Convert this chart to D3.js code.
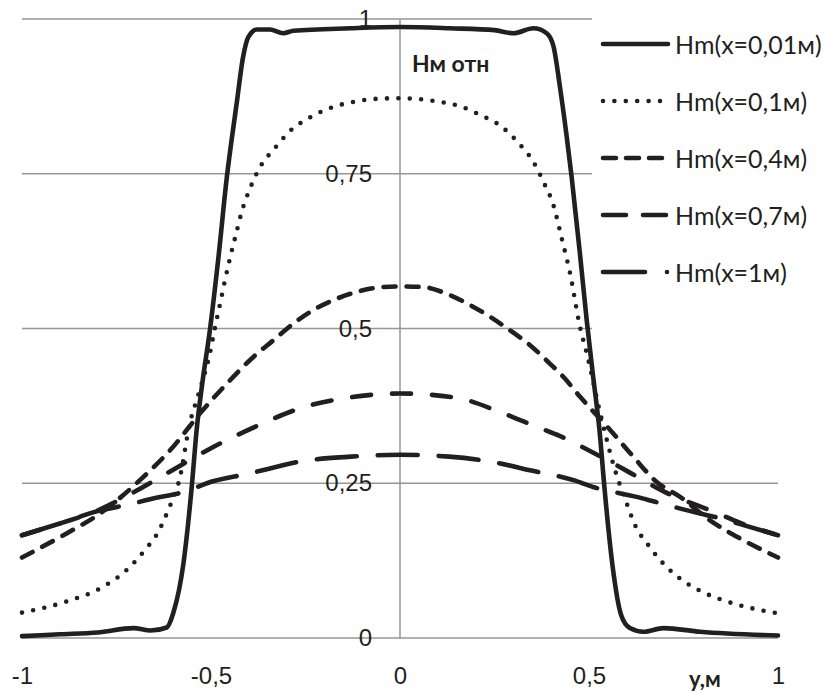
<!DOCTYPE html>
<html>
<head>
<meta charset="utf-8">
<script src="https://d3js.org/d3.v7.min.js"></script>
<style>
  body { margin: 0; background: #fff; }
  svg { display: block; font-family: Lato, 'Open Sans', sans-serif; }
  .grid { stroke: #969696; stroke-width: 1.5; }
  .curve { fill: none; stroke: #231f20; stroke-width: 4.6; stroke-linecap: round; stroke-linejoin: round; }
  .tick text { font-size: 24px; fill: #231f20; }
</style>
</head>
<body>
<svg id="chart"></svg>
<script>
// ticks and labels
var xTicks = [-1, -0.5, 0, 0.5, 1];
var yTicks = [0, 0.25, 0.5, 0.75, 1];
var seriesNames = ["Hm(x=0,01м)", "Hm(x=0,1м)", "Hm(x=0,4м)", "Hm(x=0,7м)", "Hm(x=1м)"];

// x = 0,01 m
var pos001 = [-1, -0.9, -0.8, -0.705, -0.66, -0.617, -0.6, -0.573, -0.551, -0.538, -0.522, -0.503, -0.481, -0.458, -0.432, -0.415, -0.401, -0.379, -0.344, -0.309, -0.282, -0.132, 0,
              0.132, 0.25, 0.30, 0.353, 0.388, 0.406, 0.423, 0.441, 0.454, 0.476, 0.494, 0.511, 0.528, 0.541, 0.562, 0.585, 0.608, 0.644, 0.697, 0.794, 1];
var hm001 = [0.003, 0.006, 0.009, 0.016, 0.012, 0.017, 0.04, 0.12, 0.244, 0.336, 0.416, 0.497, 0.611, 0.745, 0.864, 0.939, 0.971, 0.983, 0.983, 0.977, 0.981, 0.985, 0.987,
             0.985, 0.982, 0.977, 0.985, 0.977, 0.956, 0.891, 0.81, 0.745, 0.621, 0.513, 0.422, 0.334, 0.242, 0.118, 0.037, 0.016, 0.01, 0.016, 0.01, 0.004];

// x = 0,1 m
var pos01 = [-1, -0.882, -0.794, -0.723, -0.675, -0.639, -0.613, -0.582, -0.556, -0.534, -0.503, -0.489, -0.476, -0.463, -0.45, -0.434, -0.419, -0.397, -0.37, -0.333, -0.291, -0.238, -0.181, -0.124, -0.062, 0,
             0.097, 0.159, 0.212, 0.269, 0.313, 0.353, 0.381, 0.406, 0.428, 0.45, 0.476, 0.494, 0.529, 0.569, 0.6, 0.622, 0.657, 0.697, 0.745, 0.798, 0.855, 0.917, 1];
var hm01 = [0.041, 0.059, 0.08, 0.11, 0.142, 0.172, 0.207, 0.26, 0.347, 0.392, 0.46, 0.503, 0.54, 0.578, 0.613, 0.652, 0.688, 0.726, 0.761, 0.79, 0.819, 0.841, 0.857, 0.866, 0.871, 0.872,
            0.867, 0.859, 0.845, 0.826, 0.8, 0.769, 0.735, 0.699, 0.645, 0.589, 0.503, 0.46, 0.365, 0.271, 0.217, 0.182, 0.15, 0.12, 0.094, 0.075, 0.061, 0.05, 0.04];

// x = 0,4 m
var pos04 = [-1, -0.882, -0.794, -0.688, -0.6, -0.529, -0.458, -0.388, -0.335, -0.282, -0.229, -0.176, -0.115, -0.044, 0,
             0.062, 0.124, 0.185, 0.238, 0.291, 0.344, 0.397, 0.432, 0.476, 0.556, 0.617, 0.679, 0.741, 0.82, 0.899, 1];
var hm04 = [0.13, 0.169, 0.201, 0.255, 0.309, 0.363, 0.411, 0.454, 0.481, 0.508, 0.53, 0.546, 0.559, 0.567, 0.568,
            0.567, 0.556, 0.538, 0.519, 0.497, 0.473, 0.443, 0.422, 0.39, 0.336, 0.293, 0.252, 0.228, 0.19, 0.161, 0.13];

// x = 0,7 m
var pos07 = [-1, -0.9, -0.8, -0.7, -0.6, -0.511, -0.362, -0.265, -0.15, 0,
             0.15, 0.265, 0.33, 0.383, 0.428, 0.481, 0.6, 0.7, 0.83, 0.9, 1];
var hm07 = [0.166, 0.185, 0.206, 0.237, 0.272, 0.303, 0.347, 0.371, 0.387, 0.395,
            0.388, 0.365, 0.349, 0.336, 0.325, 0.309, 0.27, 0.236, 0.204, 0.186, 0.166];

// x = 1 m
var pos1 = [-1, -0.9, -0.8, -0.7, -0.67, -0.556, -0.511, -0.397, -0.344, -0.265, -0.13, 0,
            0.13, 0.265, 0.344, 0.459, 0.511, 0.626, 0.675, 0.794, 0.83, 0.9, 1];
var hm1 = [0.166, 0.185, 0.205, 0.218, 0.223, 0.239, 0.25, 0.266, 0.274, 0.285, 0.293, 0.296,
           0.293, 0.282, 0.271, 0.255, 0.244, 0.228, 0.22, 0.201, 0.196, 0.184, 0.166];

var seriesPos = [pos001, pos01, pos04, pos07, pos1];
var seriesVal = [hm001, hm01, hm04, hm07, hm1];
var dashes = [null, "0 11.4", "12 11", "19 21", "40 21"];
var legendDashes = [null, "0 11.4", "13 10", "23 17", "42 22 0 40"];

var width = 824, height = 693;
var svg = d3.select("#chart").attr("width", width).attr("height", height);

var x = d3.scaleLinear().domain([-1, 1]).range([22, 778]);
var y = d3.scaleLinear().domain([0, 1]).range([638, 19]);

// comma decimal, plain hyphen minus
var ru = d3.formatLocale({decimal: ",", thousands: " ", grouping: [3], currency: ["", ""], minus: "-"});
var fmt = ru.format("~g");

// horizontal grid
svg.append("g").selectAll("line").data(yTicks).enter().append("line")
  .attr("class", "grid")
  .attr("x1", x(-1)).attr("x2", x(1))
  .attr("y1", function(d) { return y(d); }).attr("y2", function(d) { return y(d); });

// vertical axis line at 0
svg.append("line").attr("class", "grid")
  .attr("x1", x(0)).attr("x2", x(0)).attr("y1", y(1)).attr("y2", y(0));

// y axis labels (left of zero line)
var yAxis = svg.append("g").attr("transform", "translate(" + x(0) + ",0)")
  .call(d3.axisLeft(y).tickValues(yTicks).tickSize(0).tickPadding(28).tickFormat(fmt));
yAxis.select(".domain").remove();
yAxis.selectAll("text").attr("font-family", null);

// x axis labels
var xAxis = svg.append("g").attr("transform", "translate(0," + y(0) + ")")
  .call(d3.axisBottom(x).tickValues(xTicks).tickSize(0).tickPadding(29).tickFormat(fmt));
xAxis.select(".domain").remove();
xAxis.selectAll("text").attr("font-family", null);

// curves
var line = d3.line().curve(d3.curveMonotoneX)
  .x(function(d) { return x(d[0]); })
  .y(function(d) { return y(d[1]); });

seriesPos.forEach(function(p, i) {
  var pts = p.map(function(v, j) { return [v, seriesVal[i][j]]; });
  svg.append("path").attr("class", "curve")
    .attr("d", line(pts))
    .attr("stroke-dasharray", dashes[i]);
});

// axis titles
svg.append("text").attr("x", 412).attr("y", 72)
  .attr("font-size", 23).attr("font-weight", "bold").attr("fill", "#231f20")
  .text("Нм отн");
svg.append("text").attr("x", 689).attr("y", 687)
  .attr("font-size", 22).attr("font-weight", "bold").attr("fill", "#231f20")
  .text("y,м");

// legend
var lg = svg.append("g");
lg.append("rect").attr("x", 592).attr("y", 0).attr("width", 232).attr("height", 336).attr("fill", "#fff");
var ly = d3.scalePoint().domain(d3.range(5)).range([44, 272]);
seriesNames.forEach(function(name, i) {
  lg.append("line").attr("class", "curve")
    .attr("x1", 603).attr("x2", i == 4 ? 668 : 668)
    .attr("y1", ly(i)).attr("y2", ly(i))
    .attr("stroke-dasharray", legendDashes[i]);
  lg.append("text").attr("x", 675).attr("y", ly(i))
    .attr("dominant-baseline", "central")
    .attr("font-size", 25).attr("fill", "#231f20")
    .text(name);
});
</script>
</body>
</html>
